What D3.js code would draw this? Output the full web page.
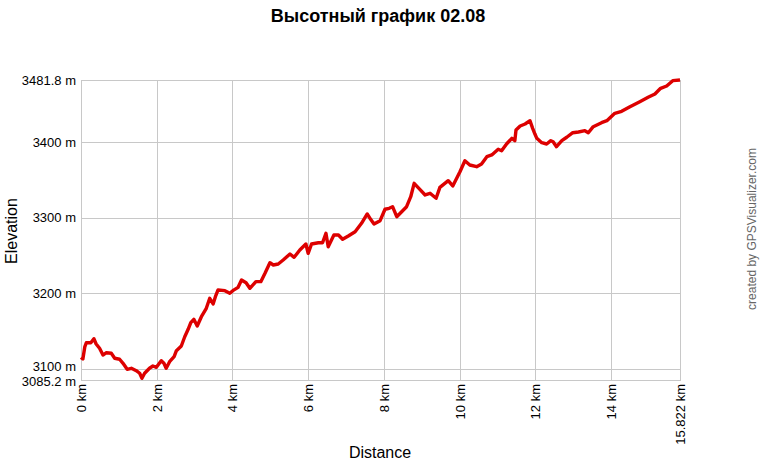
<!DOCTYPE html>
<html>
<head>
<meta charset="utf-8">
<script src="https://cdn.jsdelivr.net/npm/d3@7"></script>
<style>
  html, body { margin: 0; padding: 0; background: #fff; }
  svg { display: block; font-family: "Liberation Sans", Arial, sans-serif; }
</style>
</head>
<body>
<svg id="chart" width="760" height="460"></svg>
<script>
// ---- data ----
const titleText = "Высотный график 02.08";
const distanceKm = [0, 0.05, 0.10, 0.14, 0.26, 0.34, 0.40, 0.49, 0.58, 0.67, 0.80, 0.89, 1.02, 1.11, 1.22, 1.33, 1.46, 1.55, 1.61, 1.68, 1.81, 1.90, 1.99, 2.12, 2.19, 2.25, 2.34, 2.46, 2.52, 2.65, 2.74, 2.83, 2.90, 2.98, 3.07, 3.18, 3.31, 3.40, 3.49, 3.55, 3.62, 3.80, 3.93, 4.01, 4.15,
  4.24, 4.36, 4.46, 4.62, 4.75, 4.86, 4.99, 5.08, 5.21, 5.34, 5.52, 5.63, 5.78, 5.94, 6.00, 6.09, 6.27, 6.38, 6.47, 6.53, 6.68, 6.80, 6.91, 7.06, 7.24, 7.41, 7.56, 7.65, 7.74, 7.90, 8.03, 8.14,
  8.23, 8.34, 8.47, 8.60, 8.71, 8.80, 8.95, 9.09, 9.22, 9.38, 9.48, 9.70, 9.82, 10.01, 10.14, 10.27, 10.45, 10.58, 10.72, 10.85, 11.02, 11.11, 11.24, 11.38, 11.46, 11.49, 11.60, 11.73, 11.86, 11.93, 11.99,
  12.04, 12.17, 12.30, 12.41, 12.47, 12.56, 12.70, 12.83, 12.99, 13.14, 13.31, 13.40, 13.53, 13.75, 13.89, 14.10, 14.28, 14.50, 14.76, 14.98, 15.16, 15.31, 15.47, 15.63, 15.822];
const elevationM = [3115, 3113, 3129, 3134.5, 3134.5, 3139.8, 3132.8, 3127.1, 3118.2, 3121.3, 3120.5, 3113.9, 3112.6, 3107.3, 3099.3, 3100.7, 3097.5, 3094.1, 3087.4, 3094.1, 3100.7, 3103.7, 3102, 3110.7, 3107.3, 3100.7, 3109.4, 3116, 3123.9, 3130.1, 3142.4, 3152.2, 3161, 3165.4, 3156.6, 3168.9, 3180, 3193.2, 3185.7, 3195.3, 3204.2, 3203.3, 3199.8, 3203.3, 3207.7,
  3217.4, 3213.8, 3206.4, 3215.2, 3215.2, 3226.3, 3240.3, 3237.2, 3238.6, 3243.8, 3251.8, 3247.4, 3257.1, 3265, 3252.7, 3265, 3266.7, 3266.7, 3279.1, 3261.4, 3276.9, 3276.9, 3271.2, 3275.6, 3281.2, 3292.4, 3304.7, 3297.6, 3291.4, 3295.8, 3310.9, 3312.2,
  3314.3, 3301.1, 3307.7, 3314.3, 3327.5, 3345.2, 3337.3, 3329.8, 3332, 3325.4, 3339.9, 3348.7, 3341.7, 3360.6, 3375.1, 3369.4, 3367.2, 3370.8, 3380.4, 3382.7, 3390.2, 3388.3, 3397.2, 3404.7, 3401.6, 3415.7, 3421, 3423.6, 3428, 3417.9, 3410.4,
  3404.7, 3398.9, 3397.2, 3401.6, 3400.2, 3393.6, 3401.6, 3406.1, 3412.1, 3413.1, 3414.8, 3412.1, 3420.1, 3425.4, 3428, 3437.8, 3440.4, 3446.5, 3453.1, 3458.9, 3463.3, 3470.8, 3473.9, 3480.9, 3481.8];
const xTickValues = [0, 2, 4, 6, 8, 10, 12, 14, 15.822];
const xTickLabels = ["0 km", "2 km", "4 km", "6 km", "8 km", "10 km", "12 km", "14 km", "15.822 km"];
const yTickValues = [3085.2, 3100, 3200, 3300, 3400, 3481.8];
const yTickLabels = ["3085.2 m", "3100 m", "3200 m", "3300 m", "3400 m", "3481.8 m"];
const xDomain = [0, 15.822];
const yDomain = [3085.2, 3481.8];

// ---- layout ----
const svg = d3.select("#chart");
const plot = { left: 81, right: 680, top: 80, bottom: 380 };
const x = d3.scaleLinear().domain(xDomain).range([plot.left, plot.right]);
const y = d3.scaleLinear().domain(yDomain).range([plot.bottom, plot.top]);
const gridColor = "#c8c8c8";

// title
svg.append("text").attr("x", 378).attr("y", 22).attr("text-anchor", "middle")
  .attr("font-size", 18).attr("font-weight", "bold").attr("fill", "#000").text(titleText);

// grid
const grid = svg.append("g");
grid.selectAll("line.v").data(xTickValues).join("line")
  .attr("x1", d => Math.round(x(d)) + 0.5).attr("x2", d => Math.round(x(d)) + 0.5)
  .attr("y1", plot.top).attr("y2", plot.bottom)
  .attr("stroke", gridColor).attr("stroke-width", 1);
grid.selectAll("line.h").data(yTickValues).join("line")
  .attr("x1", plot.left).attr("x2", plot.right + 1)
  .attr("y1", d => Math.round(y(d)) + 0.5).attr("y2", d => Math.round(y(d)) + 0.5)
  .attr("stroke", gridColor).attr("stroke-width", 1);

// axes via d3
const yAxis = d3.axisLeft(y).tickValues(yTickValues)
  .tickFormat((d, i) => yTickLabels[i]).tickSize(0).tickPadding(5);
const yG = svg.append("g").attr("transform", `translate(${plot.left},0)`).call(yAxis);
yG.select(".domain").remove();
yG.selectAll("text").attr("font-size", 13).attr("fill", "#000")
  .attr("font-family", "Liberation Sans, Arial, sans-serif")
  .attr("dy", (d) => d === 3100 ? "0.1em" : (d === 3085.2 ? "0.4em" : "0.32em"));

const xAxis = d3.axisBottom(x).tickValues(xTickValues)
  .tickFormat((d, i) => xTickLabels[i]).tickSize(0).tickPadding(0);
const xG = svg.append("g").attr("transform", `translate(0,${plot.bottom})`).call(xAxis);
xG.select(".domain").remove();
xG.selectAll("text").attr("font-size", 13).attr("fill", "#000")
  .attr("font-family", "Liberation Sans, Arial, sans-serif")
  .attr("text-anchor", "end")
  .attr("transform", "rotate(-90)")
  .attr("x", -4).attr("y", 0).attr("dy", "0.35em");

// axis titles
svg.append("text").attr("x", 380).attr("y", 458).attr("text-anchor", "middle")
  .attr("font-size", 16).attr("fill", "#000").text("Distance");
svg.append("text").attr("transform", "translate(17,231) rotate(-90)").attr("text-anchor", "middle")
  .attr("font-size", 16).attr("fill", "#000").text("Elevation");

// credit
svg.append("text").attr("transform", "translate(756,229) rotate(-90)").attr("text-anchor", "middle")
  .attr("font-size", 12).attr("fill", "#666").text("created by GPSVisualizer.com");

// line
const line = d3.line().x((d, i) => x(distanceKm[i])).y((d, i) => y(elevationM[i]));
svg.append("path").datum(elevationM)
  .attr("d", line).attr("fill", "none")
  .attr("stroke", "#dd0000").attr("stroke-width", 3.4)
  .attr("stroke-linejoin", "round").attr("stroke-linecap", "butt");
</script>
</body>
</html>
